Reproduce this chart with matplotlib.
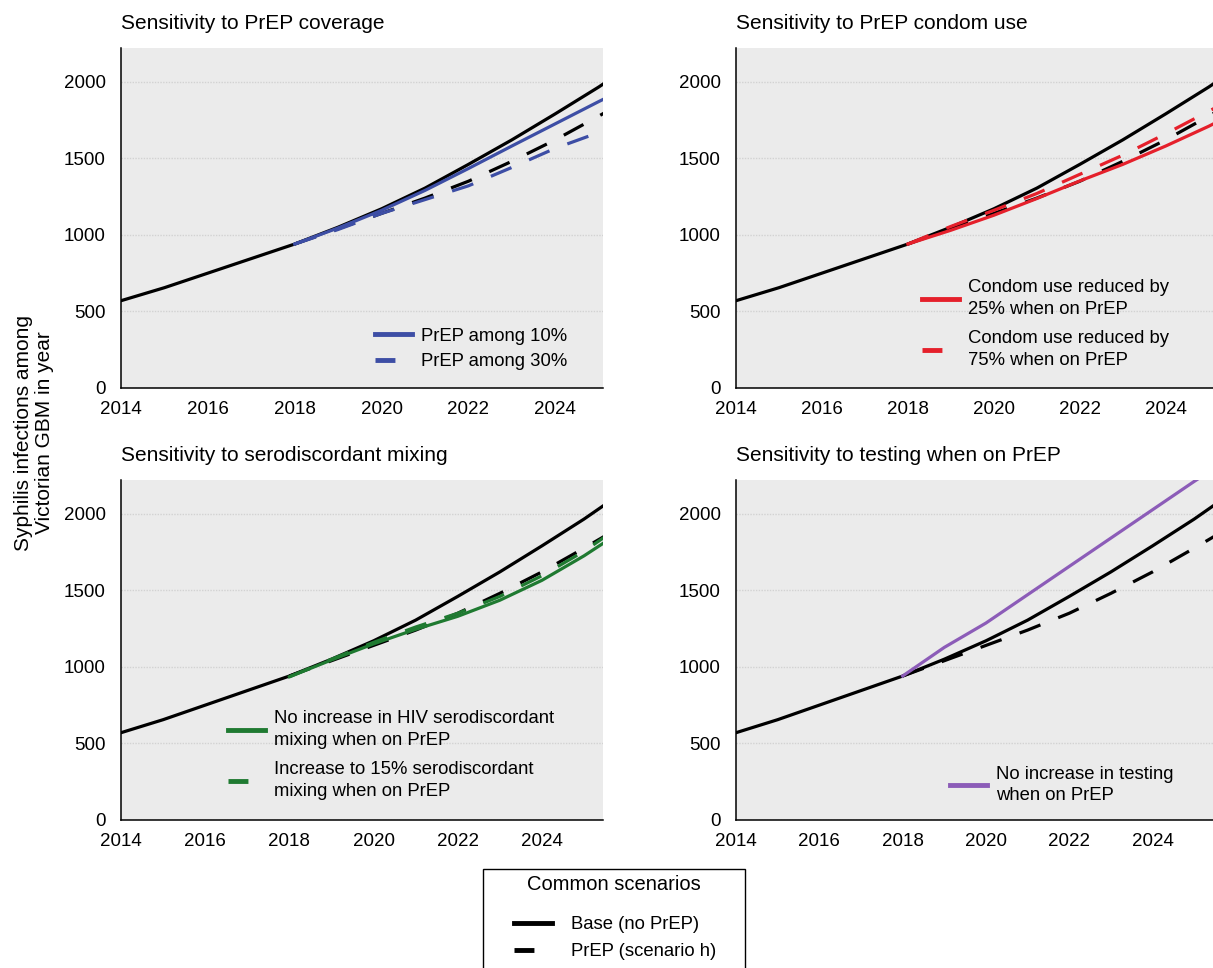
import matplotlib.pyplot as plt
from matplotlib.lines import Line2D
from matplotlib.patches import Rectangle

plt.rcParams['font.family'] = ['Liberation Sans', 'DejaVu Sans']

# base model (no PrEP), 2014 onwards
years = [2014, 2015, 2016, 2017, 2018, 2019, 2020, 2021, 2022, 2023, 2024, 2025, 2025.5]
base = [570, 655, 750, 845, 940, 1050, 1170, 1305, 1460, 1620, 1790, 1965, 2060]

# PrEP scenarios start in 2018
prep_years = [2018, 2019, 2020, 2021, 2022, 2023, 2024, 2025, 2025.5]
scenario_h = [940, 1040, 1140, 1240, 1350, 1480, 1620, 1775, 1855]

prep_10 = [940, 1045, 1160, 1290, 1433, 1580, 1725, 1870, 1940]
prep_30 = [940, 1035, 1140, 1230, 1320, 1440, 1565, 1668, 1720]

condom_25 = [940, 1030, 1128, 1237, 1352, 1460, 1580, 1709, 1780]
condom_75 = [940, 1055, 1160, 1270, 1395, 1520, 1660, 1807, 1880]

mix_none = [935, 1045, 1150, 1245, 1330, 1435, 1565, 1725, 1815]
mix_15 = [935, 1050, 1160, 1260, 1350, 1460, 1595, 1755, 1850]

no_testing = [940, 1127, 1286, 1471, 1656, 1841, 2026, 2211, 2300]

titles = ["Sensitivity to PrEP coverage", "Sensitivity to PrEP condom use",
          "Sensitivity to serodiscordant mixing", "Sensitivity to testing when on PrEP"]

BLUE = '#3d4ea5'
RED = '#e5202b'
GREEN = '#1f7a31'
PURPLE = '#8c5cb8'
DASH = (0, (7, 6))
HDASH = (0, (4.1, 6))

W, H = 1213, 968
fig = plt.figure(figsize=(W / 100, H / 100), dpi=100)


def panel(rect, title, xmax):
    ax = fig.add_axes(rect)
    ax.set_facecolor('#ebebeb')
    ax.set_xlim(2014, xmax)
    ax.set_ylim(0, 2220)
    ax.set_xticks(range(2014, 2025, 2))
    ax.set_yticks(range(0, 2001, 500))
    ax.yaxis.grid(True, color='#d2d2d2', lw=1, ls=(0, (1, 1)))
    ax.set_axisbelow(True)
    for s in ['top', 'right']:
        ax.spines[s].set_visible(False)
    for s in ['left', 'bottom']:
        ax.spines[s].set_linewidth(1.1)
    ax.tick_params(length=0, labelsize=13.5)
    ax.tick_params(axis='y', pad=11)
    ax.tick_params(axis='x', pad=9)
    ax.set_title(title, loc='left', fontsize=15, pad=14)
    ax.plot(years, base, color='black', lw=2.3)
    ax.plot(prep_years, scenario_h, color='black', lw=2.3, ls=DASH)
    return ax


def add_legend(ax, items, anchor, spacing=0.45):
    handles = [Line2D([], [], color=c, lw=3.5, ls=ls) for c, ls, _ in items]
    labels = [t for _, _, t in items]
    leg = ax.legend(handles, labels, loc='center left', bbox_to_anchor=anchor,
                    frameon=False, fontsize=13.3, handlelength=2.0, handletextpad=0.5,
                    borderpad=0, borderaxespad=0, labelspacing=spacing)
    for t in leg.get_texts():
        t.set_linespacing(1.38)


ax1 = panel([121 / W, 1 - 388 / H, 482 / W, 340 / H], titles[0], 2025.1)
ax1.plot(prep_years, prep_10, color=BLUE, lw=2.3)
ax1.plot(prep_years, prep_30, color=BLUE, lw=2.3, ls=DASH)
add_legend(ax1, [(BLUE, '-', 'PrEP among 10%'), (BLUE, HDASH, 'PrEP among 30%')],
           (0.527, 0.115))

ax2 = panel([736 / W, 1 - 388 / H, 477 / W, 340 / H], titles[1], 2025.1)
ax2.plot(prep_years, condom_25, color=RED, lw=2.3)
ax2.plot(prep_years, condom_75, color=RED, lw=2.3, ls=DASH)
add_legend(ax2, [(RED, '-', 'Condom use reduced by\n25% when on PrEP'),
                 (RED, HDASH, 'Condom use reduced by\n75% when on PrEP')],
           (0.39, 0.188), spacing=0.65)

ax3 = panel([121 / W, 1 - 820 / H, 482 / W, 340 / H], titles[2], 2025.45)
ax3.plot(prep_years, mix_none, color=GREEN, lw=2.3)
ax3.plot(prep_years, mix_15, color=GREEN, lw=2.3, ls=DASH)
add_legend(ax3, [(GREEN, '-', 'No increase in HIV serodiscordant\nmixing when on PrEP'),
                 (GREEN, HDASH, 'Increase to 15% serodiscordant\nmixing when on PrEP')],
           (0.222, 0.19), spacing=0.65)

ax4 = panel([736 / W, 1 - 820 / H, 477 / W, 340 / H], titles[3], 2025.45)
ax4.plot(prep_years, no_testing, color=PURPLE, lw=2.3)
add_legend(ax4, [(PURPLE, '-', 'No increase in testing\nwhen on PrEP')], (0.449, 0.103))

fig.text(0.028, 0.553, "Syphilis infections among\nVictorian GBM in year", rotation=90,
         ha='center', va='center', fontsize=15, linespacing=1.15)

# common scenarios box
fig.patches.append(Rectangle((483 / W, -0.02), 262 / W, (968 - 869) / H + 0.02,
                             transform=fig.transFigure, fill=False, ec='black', lw=1))
fig.text(614 / W, 1 - 885 / H, 'Common scenarios', ha='center', va='center', fontsize=14.5)
common = [Line2D([], [], color='black', lw=3.5),
          Line2D([], [], color='black', lw=3.5, ls=HDASH)]
fig.legend(common, ['Base (no PrEP)', 'PrEP (scenario h)'],
           loc='upper left', bbox_to_anchor=(505 / W, 1 - 907 / H), frameon=False,
           borderpad=0, fontsize=13.3, handlelength=2.05,
           handletextpad=1.0, labelspacing=0.55)

fig.savefig('out.png', dpi=100)
